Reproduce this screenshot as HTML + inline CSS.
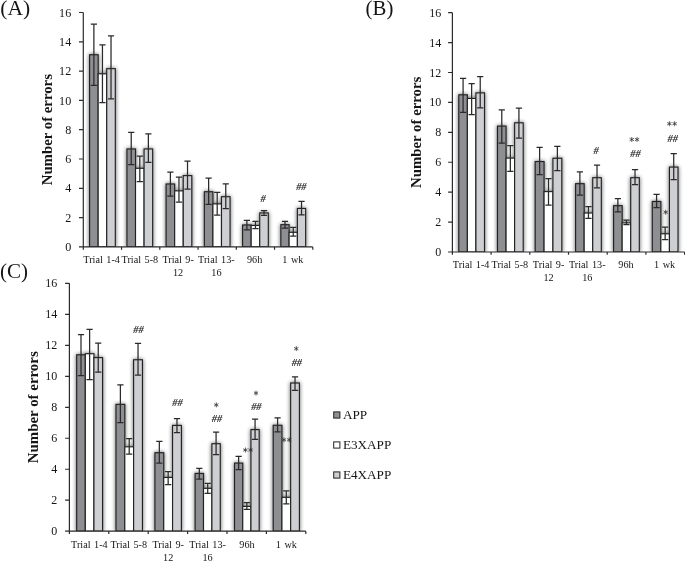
<!DOCTYPE html>
<html><head><meta charset="utf-8"><title>Number of errors</title>
<style>html,body{margin:0;padding:0;background:#fff;}body{width:685px;height:561px;overflow:hidden;font-family:"Liberation Serif",serif;}svg{display:block;opacity:0.999;}text{font-family:"Liberation Serif",serif;fill:#151515;}</style>
</head><body>
<svg width="685" height="561" viewBox="0 0 685 561">
<defs><filter id="sh" x="-30%" y="-5%" width="160%" height="110%"><feGaussianBlur in="SourceAlpha" stdDeviation="2" result="b"/><feComponentTransfer in="b" result="s"><feFuncA type="linear" slope="0.62"/></feComponentTransfer><feMerge><feMergeNode in="s"/><feMergeNode in="SourceGraphic"/></feMerge></filter></defs>
<rect width="685" height="561" fill="#fff"/>
<g id="panelA">
<clipPath id="clipA"><rect x="83.3" y="0" width="233.5" height="246.9"/></clipPath>
<g clip-path="url(#clipA)"><g filter="url(#sh)">
<rect x="89.6" y="54.75" width="8.57" height="192.15" fill="#8e8f92" stroke="#222222" stroke-width="1.15"/>
<rect x="98.17" y="73.8" width="8.57" height="173.1" fill="#ffffff" stroke="#222222" stroke-width="1.15"/>
<rect x="106.73" y="68.67" width="8.57" height="178.23" fill="#cecfd2" stroke="#222222" stroke-width="1.15"/>
<rect x="126.95" y="148.95" width="8.57" height="97.95" fill="#8e8f92" stroke="#222222" stroke-width="1.15"/>
<rect x="135.52" y="168.29" width="8.57" height="78.61" fill="#ffffff" stroke="#222222" stroke-width="1.15"/>
<rect x="144.08" y="148.95" width="8.57" height="97.95" fill="#cecfd2" stroke="#222222" stroke-width="1.15"/>
<rect x="166.1" y="183.97" width="8.57" height="62.93" fill="#8e8f92" stroke="#222222" stroke-width="1.15"/>
<rect x="174.67" y="190.85" width="8.57" height="56.05" fill="#ffffff" stroke="#222222" stroke-width="1.15"/>
<rect x="183.23" y="175.62" width="8.57" height="71.28" fill="#cecfd2" stroke="#222222" stroke-width="1.15"/>
<rect x="204.35" y="191.73" width="8.57" height="55.17" fill="#8e8f92" stroke="#222222" stroke-width="1.15"/>
<rect x="212.92" y="203.89" width="8.57" height="43.01" fill="#ffffff" stroke="#222222" stroke-width="1.15"/>
<rect x="221.48" y="196.71" width="8.57" height="50.19" fill="#cecfd2" stroke="#222222" stroke-width="1.15"/>
<rect x="242.6" y="224.99" width="8.57" height="21.91" fill="#8e8f92" stroke="#222222" stroke-width="1.15"/>
<rect x="251.17" y="225.43" width="8.57" height="21.47" fill="#ffffff" stroke="#222222" stroke-width="1.15"/>
<rect x="259.73" y="212.97" width="8.57" height="33.93" fill="#cecfd2" stroke="#222222" stroke-width="1.15"/>
<rect x="280.85" y="224.69" width="8.27" height="22.21" fill="#8e8f92" stroke="#222222" stroke-width="1.15"/>
<rect x="289.12" y="232.31" width="8.27" height="14.59" fill="#ffffff" stroke="#222222" stroke-width="1.15"/>
<rect x="297.38" y="208.43" width="8.27" height="38.47" fill="#cecfd2" stroke="#222222" stroke-width="1.15"/>
</g></g>
<g stroke="#2a2a2a" stroke-width="1.25" fill="none">
<path d="M93.88 24.22V85.46M90.78 24.22H96.98M90.78 85.46H96.98"/>
<path d="M102.45 44.88V102.6M99.35 44.88H105.55M99.35 102.6H105.55"/>
<path d="M111.02 35.94V98.79M107.92 35.94H114.12M107.92 98.79H114.12"/>
<path d="M131.23 132.34V164.57M128.13 132.34H134.33M128.13 164.57H134.33"/>
<path d="M139.8 156.07V181.71M136.7 156.07H142.9M136.7 181.71H142.9"/>
<path d="M148.37 133.8V162.37M145.27 133.8H151.47M145.27 162.37H151.47"/>
<path d="M170.38 172.04V196.21M167.28 172.04H173.48M167.28 196.21H173.48"/>
<path d="M178.95 177.17V202.22M175.85 177.17H182.05M175.85 202.22H182.05"/>
<path d="M187.52 161.2V189.03M184.42 161.2H190.62M184.42 189.03H190.62"/>
<path d="M208.63 178.05V204.42M205.53 178.05H211.73M205.53 204.42H211.73"/>
<path d="M217.2 192.4V215.11M214.1 192.4H220.3M214.1 215.11H220.3"/>
<path d="M225.77 183.91V208.52M222.67 183.91H228.87M222.67 208.52H228.87"/>
<path d="M246.88 220.38V229.91M243.78 220.38H249.98M243.78 229.91H249.98"/>
<path d="M255.45 221.26V228.59M252.35 221.26H258.55M252.35 228.59H258.55"/>
<path d="M264.02 210.71V215.26M260.92 210.71H267.12M260.92 215.26H267.12"/>
<path d="M284.98 221.26V228.15M281.88 221.26H288.08M281.88 228.15H288.08"/>
<path d="M293.25 227.42V236.21M290.15 227.42H296.35M290.15 236.21H296.35"/>
<path d="M301.52 201.34V214.96M298.42 201.34H304.62M298.42 214.96H304.62"/>
</g>
<path d="M83.3 12.5V246.9H312.8M79 246.9H83.3M79 217.6H83.3M79 188.3H83.3M79 159H83.3M79 129.7H83.3M79 100.4H83.3M79 71.1H83.3M79 41.8H83.3M79 12.5H83.3M83.3 246.9V249.7M121.55 246.9V249.7M159.8 246.9V249.7M198.05 246.9V249.7M236.3 246.9V249.7M274.55 246.9V249.7M312.8 246.9V249.7" stroke="#2b2b2b" stroke-width="1.2" fill="none"/>
<text x="71.2" y="251.01" font-size="12.1" text-anchor="end">0</text>
<text x="71.2" y="221.71" font-size="12.1" text-anchor="end">2</text>
<text x="71.2" y="192.41" font-size="12.1" text-anchor="end">4</text>
<text x="71.2" y="163.11" font-size="12.1" text-anchor="end">6</text>
<text x="71.2" y="133.81" font-size="12.1" text-anchor="end">8</text>
<text x="71.2" y="104.51" font-size="12.1" text-anchor="end">10</text>
<text x="71.2" y="75.21" font-size="12.1" text-anchor="end">12</text>
<text x="71.2" y="45.91" font-size="12.1" text-anchor="end">14</text>
<text x="71.2" y="16.61" font-size="12.1" text-anchor="end">16</text>
<text x="101.62" y="262.9" font-size="10.2" word-spacing="1" text-anchor="middle">Trial 1-4</text>
<text x="139.88" y="262.9" font-size="10.2" word-spacing="1" text-anchor="middle">Trial 5-8</text>
<text x="178.12" y="262.9" font-size="10.2" word-spacing="1" text-anchor="middle">Trial 9-</text>
<text x="178.12" y="276" font-size="10.2" word-spacing="1" text-anchor="middle">12</text>
<text x="216.38" y="262.9" font-size="10.2" word-spacing="1" text-anchor="middle">Trial 13-</text>
<text x="216.38" y="276" font-size="10.2" word-spacing="1" text-anchor="middle">16</text>
<text x="254.62" y="262.9" font-size="10.2" word-spacing="1" text-anchor="middle">96h</text>
<text x="292.88" y="262.9" font-size="10.2" word-spacing="1" text-anchor="middle">1 wk</text>
<text transform="translate(52 129.7) rotate(-90)" font-size="14.8" font-weight="bold" text-anchor="middle">Number of errors</text>
<text x="0.3" y="15.3" font-size="21.6">(A)</text>
<text x="263.2" y="202" font-size="10.3" font-style="italic" text-anchor="middle" fill="#1a1a1a" stroke="#1a1a1a" stroke-width="0.18">#</text>
<text x="301.3" y="190.3" font-size="10.3" font-style="italic" text-anchor="middle" fill="#1a1a1a" stroke="#1a1a1a" stroke-width="0.18">##</text>
</g>
<g id="panelB">
<clipPath id="clipB"><rect x="452.4" y="0" width="236.2" height="252"/></clipPath>
<g clip-path="url(#clipB)"><g filter="url(#sh)">
<rect x="458.8" y="94.82" width="8.57" height="157.18" fill="#8e8f92" stroke="#222222" stroke-width="1.15"/>
<rect x="467.37" y="98.41" width="8.57" height="153.59" fill="#ffffff" stroke="#222222" stroke-width="1.15"/>
<rect x="475.93" y="92.88" width="8.57" height="159.12" fill="#cecfd2" stroke="#222222" stroke-width="1.15"/>
<rect x="497.5" y="126.09" width="8.57" height="125.91" fill="#8e8f92" stroke="#222222" stroke-width="1.15"/>
<rect x="506.07" y="158.1" width="8.57" height="93.9" fill="#ffffff" stroke="#222222" stroke-width="1.15"/>
<rect x="514.63" y="122.8" width="8.57" height="129.2" fill="#cecfd2" stroke="#222222" stroke-width="1.15"/>
<rect x="535.2" y="161.54" width="8.87" height="90.46" fill="#8e8f92" stroke="#222222" stroke-width="1.15"/>
<rect x="544.07" y="191.61" width="8.87" height="60.39" fill="#ffffff" stroke="#222222" stroke-width="1.15"/>
<rect x="552.93" y="158.25" width="8.87" height="93.75" fill="#cecfd2" stroke="#222222" stroke-width="1.15"/>
<rect x="575.6" y="183.68" width="8.57" height="68.32" fill="#8e8f92" stroke="#222222" stroke-width="1.15"/>
<rect x="584.17" y="213.01" width="8.57" height="38.99" fill="#ffffff" stroke="#222222" stroke-width="1.15"/>
<rect x="592.73" y="177.7" width="8.57" height="74.3" fill="#cecfd2" stroke="#222222" stroke-width="1.15"/>
<rect x="613.6" y="205.68" width="8.57" height="46.32" fill="#8e8f92" stroke="#222222" stroke-width="1.15"/>
<rect x="622.17" y="222.88" width="8.57" height="29.12" fill="#ffffff" stroke="#222222" stroke-width="1.15"/>
<rect x="630.73" y="177.7" width="8.57" height="74.3" fill="#cecfd2" stroke="#222222" stroke-width="1.15"/>
<rect x="652.3" y="201.49" width="8.57" height="50.51" fill="#8e8f92" stroke="#222222" stroke-width="1.15"/>
<rect x="660.87" y="233.8" width="8.57" height="18.2" fill="#ffffff" stroke="#222222" stroke-width="1.15"/>
<rect x="669.43" y="167.08" width="8.57" height="84.92" fill="#cecfd2" stroke="#222222" stroke-width="1.15"/>
</g></g>
<g stroke="#2a2a2a" stroke-width="1.25" fill="none">
<path d="M463.08 78.31V112.27M459.98 78.31H466.18M459.98 112.27H466.18"/>
<path d="M471.65 83.55V114.67M468.55 83.55H474.75M468.55 114.67H474.75"/>
<path d="M480.22 76.52V107.79M477.12 76.52H483.32M477.12 107.79H483.32"/>
<path d="M501.78 109.88V143.09M498.68 109.88H504.88M498.68 143.09H504.88"/>
<path d="M510.35 145.63V171.37M507.25 145.63H513.45M507.25 171.37H513.45"/>
<path d="M518.92 108.08V138.15M515.82 108.08H522.02M515.82 138.15H522.02"/>
<path d="M539.63 147.28V174.51M536.53 147.28H542.73M536.53 174.51H542.73"/>
<path d="M548.5 178.7V205.03M545.4 178.7H551.6M545.4 205.03H551.6"/>
<path d="M557.37 146.38V170.62M554.27 146.38H560.47M554.27 170.62H560.47"/>
<path d="M579.88 171.81V195M576.78 171.81H582.98M576.78 195H582.98"/>
<path d="M588.45 206.52V218.49M585.35 206.52H591.55M585.35 218.49H591.55"/>
<path d="M597.02 165.23V187.97M593.92 165.23H600.12M593.92 187.97H600.12"/>
<path d="M617.88 198.59V211.76M614.78 198.59H620.98M614.78 211.76H620.98"/>
<path d="M626.45 220.14V224.62M623.35 220.14H629.55M623.35 224.62H629.55"/>
<path d="M635.02 169.72V184.68M631.92 169.72H638.12M631.92 184.68H638.12"/>
<path d="M656.58 194.4V207.57M653.48 194.4H659.68M653.48 207.57H659.68"/>
<path d="M665.15 227.02V239.58M662.05 227.02H668.25M662.05 239.58H668.25"/>
<path d="M673.72 153.56V179.59M670.62 153.56H676.82M670.62 179.59H676.82"/>
</g>
<path d="M452.4 12.64V252H684.6M448.1 252H452.4M448.1 222.08H452.4M448.1 192.16H452.4M448.1 162.24H452.4M448.1 132.32H452.4M448.1 102.4H452.4M448.1 72.48H452.4M448.1 42.56H452.4M448.1 12.64H452.4M452.4 252V254.8M491.1 252V254.8M529.8 252V254.8M568.5 252V254.8M607.2 252V254.8M645.9 252V254.8M684.6 252V254.8" stroke="#2b2b2b" stroke-width="1.2" fill="none"/>
<text x="441.2" y="256.08" font-size="12" text-anchor="end">0</text>
<text x="441.2" y="226.16" font-size="12" text-anchor="end">2</text>
<text x="441.2" y="196.24" font-size="12" text-anchor="end">4</text>
<text x="441.2" y="166.32" font-size="12" text-anchor="end">6</text>
<text x="441.2" y="136.4" font-size="12" text-anchor="end">8</text>
<text x="441.2" y="106.48" font-size="12" text-anchor="end">10</text>
<text x="441.2" y="76.56" font-size="12" text-anchor="end">12</text>
<text x="441.2" y="46.64" font-size="12" text-anchor="end">14</text>
<text x="441.2" y="16.72" font-size="12" text-anchor="end">16</text>
<text x="471.15" y="268.2" font-size="10.2" word-spacing="1" text-anchor="middle">Trial 1-4</text>
<text x="509.85" y="268.2" font-size="10.2" word-spacing="1" text-anchor="middle">Trial 5-8</text>
<text x="548.55" y="268.2" font-size="10.2" word-spacing="1" text-anchor="middle">Trial 9-</text>
<text x="548.55" y="281.3" font-size="10.2" word-spacing="1" text-anchor="middle">12</text>
<text x="587.25" y="268.2" font-size="10.2" word-spacing="1" text-anchor="middle">Trial 13-</text>
<text x="587.25" y="281.3" font-size="10.2" word-spacing="1" text-anchor="middle">16</text>
<text x="625.95" y="268.2" font-size="10.2" word-spacing="1" text-anchor="middle">96h</text>
<text x="664.65" y="268.2" font-size="10.2" word-spacing="1" text-anchor="middle">1 wk</text>
<text transform="translate(420.7 132.32) rotate(-90)" font-size="14.8" font-weight="bold" text-anchor="middle">Number of errors</text>
<text x="365.6" y="15.3" font-size="20.8">(B)</text>
<text x="596" y="154.3" font-size="10.3" font-style="italic" text-anchor="middle" fill="#1a1a1a" stroke="#1a1a1a" stroke-width="0.18">#</text>
<path d="M631.75 137.4L631.75 141.6M629.93 138.45L633.57 140.55M633.57 138.45L629.93 140.55M637.05 137.4L637.05 141.6M635.23 138.45L638.87 140.55M638.87 138.45L635.23 140.55" stroke="#333" stroke-width="0.8" stroke-linecap="round" fill="none"/>
<text x="635.4" y="157.2" font-size="10.3" font-style="italic" text-anchor="middle" fill="#1a1a1a" stroke="#1a1a1a" stroke-width="0.18">##</text>
<path d="M669.35 121.6L669.35 125.8M667.53 122.65L671.17 124.75M671.17 122.65L667.53 124.75M674.65 121.6L674.65 125.8M672.83 122.65L676.47 124.75M676.47 122.65L672.83 124.75" stroke="#333" stroke-width="0.8" stroke-linecap="round" fill="none"/>
<text x="672.7" y="141.7" font-size="10.3" font-style="italic" text-anchor="middle" fill="#1a1a1a" stroke="#1a1a1a" stroke-width="0.18">##</text>
<path d="M665.7 210.1L665.7 214.3M663.88 211.15L667.52 213.25M667.52 211.15L663.88 213.25" stroke="#333" stroke-width="0.8" stroke-linecap="round" fill="none"/>
</g>
<g id="panelC">
<clipPath id="clipC"><rect x="69.4" y="0" width="240.4" height="531.2"/></clipPath>
<g clip-path="url(#clipC)"><g filter="url(#sh)">
<rect x="76.69" y="354.8" width="8.62" height="176.4" fill="#8e8f92" stroke="#222222" stroke-width="1.15"/>
<rect x="85.31" y="353.72" width="8.62" height="177.48" fill="#ffffff" stroke="#222222" stroke-width="1.15"/>
<rect x="93.93" y="357.59" width="8.62" height="173.61" fill="#cecfd2" stroke="#222222" stroke-width="1.15"/>
<rect x="115.98" y="404.37" width="8.82" height="126.83" fill="#8e8f92" stroke="#222222" stroke-width="1.15"/>
<rect x="124.8" y="446.81" width="8.82" height="84.39" fill="#ffffff" stroke="#222222" stroke-width="1.15"/>
<rect x="133.62" y="359.76" width="8.82" height="171.44" fill="#cecfd2" stroke="#222222" stroke-width="1.15"/>
<rect x="154.93" y="452.7" width="8.82" height="78.5" fill="#8e8f92" stroke="#222222" stroke-width="1.15"/>
<rect x="163.74" y="477.49" width="8.82" height="53.72" fill="#ffffff" stroke="#222222" stroke-width="1.15"/>
<rect x="172.56" y="425.44" width="8.82" height="105.76" fill="#cecfd2" stroke="#222222" stroke-width="1.15"/>
<rect x="195.12" y="473.46" width="8.38" height="57.74" fill="#8e8f92" stroke="#222222" stroke-width="1.15"/>
<rect x="203.51" y="488.33" width="8.38" height="42.87" fill="#ffffff" stroke="#222222" stroke-width="1.15"/>
<rect x="211.89" y="443.72" width="8.38" height="87.48" fill="#cecfd2" stroke="#222222" stroke-width="1.15"/>
<rect x="234.53" y="463.08" width="8.22" height="68.12" fill="#8e8f92" stroke="#222222" stroke-width="1.15"/>
<rect x="242.74" y="506.45" width="8.22" height="24.75" fill="#ffffff" stroke="#222222" stroke-width="1.15"/>
<rect x="250.96" y="429.62" width="8.22" height="101.58" fill="#cecfd2" stroke="#222222" stroke-width="1.15"/>
<rect x="273.23" y="425.28" width="8.72" height="105.92" fill="#8e8f92" stroke="#222222" stroke-width="1.15"/>
<rect x="281.94" y="497.31" width="8.72" height="33.89" fill="#ffffff" stroke="#222222" stroke-width="1.15"/>
<rect x="290.66" y="383" width="8.72" height="148.2" fill="#cecfd2" stroke="#222222" stroke-width="1.15"/>
</g></g>
<g stroke="#2a2a2a" stroke-width="1.25" fill="none">
<path d="M81 334.63V375.53M77.9 334.63H84.1M77.9 375.53H84.1"/>
<path d="M89.62 329.37V379.55M86.52 329.37H92.72M86.52 379.55H92.72"/>
<path d="M98.24 343.15V372.12M95.14 343.15H101.34M95.14 372.12H101.34"/>
<path d="M120.39 384.82V422.62M117.29 384.82H123.49M117.29 422.62H123.49"/>
<path d="M129.21 438.57V454.06M126.11 438.57H132.31M126.11 454.06H132.31"/>
<path d="M138.03 343.31V375.22M134.93 343.31H141.13M134.93 375.22H141.13"/>
<path d="M159.33 441.36V463.04M156.23 441.36H162.43M156.23 463.04H162.43"/>
<path d="M168.15 471.56V484.58M165.05 471.56H171.25M165.05 484.58H171.25"/>
<path d="M176.97 418.74V432.68M173.87 418.74H180.07M173.87 432.68H180.07"/>
<path d="M199.32 468.31V479.15M196.22 468.31H202.42M196.22 479.15H202.42"/>
<path d="M207.7 483.49V493.4M204.6 483.49H210.8M204.6 493.4H210.8"/>
<path d="M216.08 432.22V454.52M212.98 432.22H219.18M212.98 454.52H219.18"/>
<path d="M238.63 456.38V469.7M235.53 456.38H241.73M235.53 469.7H241.73"/>
<path d="M246.85 502.7V509.36M243.75 502.7H249.95M243.75 509.36H249.95"/>
<path d="M255.07 419.21V439.34M251.97 419.21H258.17M251.97 439.34H258.17"/>
<path d="M277.58 417.81V431.75M274.48 417.81H280.68M274.48 431.75H280.68"/>
<path d="M286.3 490.93V503.94M283.2 490.93H289.4M283.2 503.94H289.4"/>
<path d="M295.02 376.92V390.4M291.92 376.92H298.12M291.92 390.4H298.12"/>
</g>
<path d="M69.4 283.36V531.2H305.8M65.1 531.2H69.4M65.1 500.22H69.4M65.1 469.24H69.4M65.1 438.26H69.4M65.1 407.28H69.4M65.1 376.3H69.4M65.1 345.32H69.4M65.1 314.34H69.4M65.1 283.36H69.4M69.4 531.2V534M108.8 531.2V534M148.2 531.2V534M187.6 531.2V534M227 531.2V534M266.4 531.2V534M305.8 531.2V534" stroke="#2b2b2b" stroke-width="1.2" fill="none"/>
<text x="57.2" y="535.28" font-size="12" text-anchor="end">0</text>
<text x="57.2" y="504.3" font-size="12" text-anchor="end">2</text>
<text x="57.2" y="473.32" font-size="12" text-anchor="end">4</text>
<text x="57.2" y="442.34" font-size="12" text-anchor="end">6</text>
<text x="57.2" y="411.36" font-size="12" text-anchor="end">8</text>
<text x="57.2" y="380.38" font-size="12" text-anchor="end">10</text>
<text x="57.2" y="349.4" font-size="12" text-anchor="end">12</text>
<text x="57.2" y="318.42" font-size="12" text-anchor="end">14</text>
<text x="57.2" y="287.44" font-size="12" text-anchor="end">16</text>
<text x="89.4" y="547.7" font-size="10.2" word-spacing="1" text-anchor="middle">Trial 1-4</text>
<text x="128.8" y="547.7" font-size="10.2" word-spacing="1" text-anchor="middle">Trial 5-8</text>
<text x="168.2" y="547.7" font-size="10.2" word-spacing="1" text-anchor="middle">Trial 9-</text>
<text x="168.2" y="560.8" font-size="10.2" word-spacing="1" text-anchor="middle">12</text>
<text x="207.6" y="547.7" font-size="10.2" word-spacing="1" text-anchor="middle">Trial 13-</text>
<text x="207.6" y="560.8" font-size="10.2" word-spacing="1" text-anchor="middle">16</text>
<text x="247" y="547.7" font-size="10.2" word-spacing="1" text-anchor="middle">96h</text>
<text x="286.4" y="547.7" font-size="10.2" word-spacing="1" text-anchor="middle">1 wk</text>
<text transform="translate(38 407.28) rotate(-90)" font-size="14.9" font-weight="bold" text-anchor="middle">Number of errors</text>
<text x="0" y="278.2" font-size="21">(C)</text>
<text x="138.5" y="333" font-size="10.3" font-style="italic" text-anchor="middle" fill="#1a1a1a" stroke="#1a1a1a" stroke-width="0.18">##</text>
<text x="177.4" y="406.2" font-size="10.3" font-style="italic" text-anchor="middle" fill="#1a1a1a" stroke="#1a1a1a" stroke-width="0.18">##</text>
<path d="M216.3 402.8L216.3 407M214.48 403.85L218.12 405.95M218.12 403.85L214.48 405.95" stroke="#333" stroke-width="0.8" stroke-linecap="round" fill="none"/>
<text x="216.9" y="422.3" font-size="10.3" font-style="italic" text-anchor="middle" fill="#1a1a1a" stroke="#1a1a1a" stroke-width="0.18">##</text>
<path d="M256 391L256 395.2M254.18 392.05L257.82 394.15M257.82 392.05L254.18 394.15" stroke="#333" stroke-width="0.8" stroke-linecap="round" fill="none"/>
<text x="256.3" y="409.9" font-size="10.3" font-style="italic" text-anchor="middle" fill="#1a1a1a" stroke="#1a1a1a" stroke-width="0.18">##</text>
<path d="M245.35 447.9L245.35 452.1M243.53 448.95L247.17 451.05M247.17 448.95L243.53 451.05M250.65 447.9L250.65 452.1M248.83 448.95L252.47 451.05M252.47 448.95L248.83 451.05" stroke="#333" stroke-width="0.8" stroke-linecap="round" fill="none"/>
<path d="M296.3 346.5L296.3 350.7M294.48 347.55L298.12 349.65M298.12 347.55L294.48 349.65" stroke="#333" stroke-width="0.8" stroke-linecap="round" fill="none"/>
<text x="296.8" y="366.3" font-size="10.3" font-style="italic" text-anchor="middle" fill="#1a1a1a" stroke="#1a1a1a" stroke-width="0.18">##</text>
<path d="M283.95 437.7L283.95 441.9M282.13 438.75L285.77 440.85M285.77 438.75L282.13 440.85M289.25 437.7L289.25 441.9M287.43 438.75L291.07 440.85M291.07 438.75L287.43 440.85" stroke="#333" stroke-width="0.8" stroke-linecap="round" fill="none"/>
</g>
<g id="legend">
<rect x="333.7" y="411.9" width="6.2" height="6.2" fill="#8e8f92" stroke="#222222" stroke-width="1"/>
<text x="342.9" y="418.8" font-size="13.2">APP</text>
<rect x="333.7" y="441.9" width="6.2" height="6.2" fill="#ffffff" stroke="#222222" stroke-width="1"/>
<text x="342.9" y="448.8" font-size="13.2">E3XAPP</text>
<rect x="333.7" y="471.9" width="6.2" height="6.2" fill="#cecfd2" stroke="#222222" stroke-width="1"/>
<text x="342.9" y="478.8" font-size="13.2">E4XAPP</text>
</g>
</svg></body></html>
